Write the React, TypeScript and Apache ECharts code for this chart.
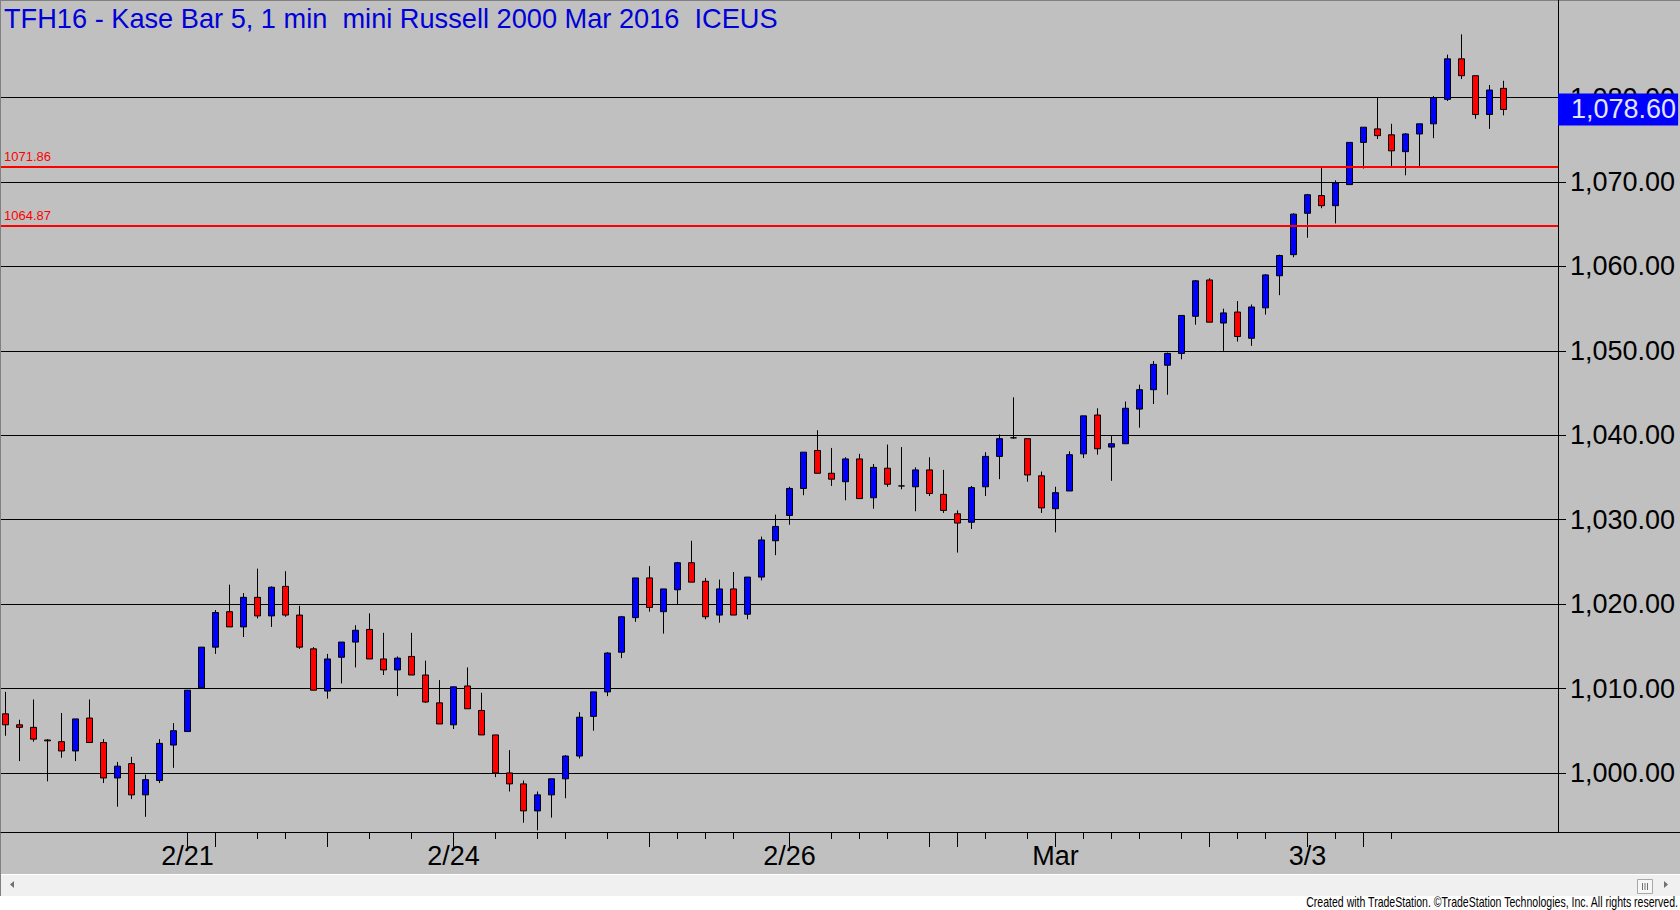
import React, { useEffect, useRef } from 'react';
import * as echarts from 'echarts';

const FONT = "'Liberation Sans', Arial, Helvetica, sans-serif";
const TITLE = 'TFH16 - Kase Bar 5, 1 min  mini Russell 2000 Mar 2016  ICEUS';
const FOOTER = 'Created with TradeStation. \u00a9TradeStation Technologies, Inc. All rights reserved.';

// OHLC per bar (Kase bars, left to right)
const opens = [
  1007.0, 1005.7, 1005.4, 1003.9, 1003.7, 1002.6, 1006.5, 1003.6, 999.4, 1001.1,
  997.4, 999.1, 1003.3, 1004.9, 1010.1, 1014.9, 1019.1, 1017.3, 1020.8, 1018.6,
  1022.1, 1018.7, 1014.7, 1009.7, 1013.7, 1015.5, 1017.0, 1013.5, 1012.2, 1013.8,
  1011.6, 1008.3, 1005.7, 1010.3, 1007.4, 1004.5, 1000.0, 998.7, 995.5, 997.4,
  999.3, 1002.0, 1006.7, 1009.6, 1014.3, 1018.4, 1023.1, 1019.1, 1021.7, 1024.9,
  1022.7, 1018.7, 1021.8, 1018.8, 1023.2, 1027.5, 1030.5, 1033.7, 1038.2, 1035.5,
  1034.5, 1037.2, 1032.6, 1036.1, 1034.0, 1033.9, 1035.9, 1033.0, 1030.7, 1029.7,
  1033.9, 1037.5, 1039.7, 1039.6, 1035.2, 1031.3, 1033.4, 1037.8, 1042.4, 1038.6,
  1039.0, 1043.1, 1045.4, 1048.3, 1049.7, 1054.1, 1058.4, 1053.3, 1054.6, 1051.5,
  1055.1, 1058.9, 1061.4, 1066.3, 1068.4, 1067.2, 1069.7, 1074.7, 1076.3, 1075.6,
  1073.6, 1075.7, 1076.9, 1079.8, 1084.6, 1082.6, 1078.0, 1081.1,
];
const closes = [
  1005.7, 1005.4, 1004.0, 1003.8, 1002.6, 1006.4, 1003.6, 999.4, 1000.8, 997.4,
  999.2, 1003.5, 1005.0, 1009.8, 1014.9, 1019.0, 1017.3, 1020.8, 1018.6, 1022.0,
  1018.7, 1014.9, 1009.8, 1013.5, 1015.5, 1016.9, 1013.5, 1012.2, 1013.6, 1011.6,
  1008.4, 1005.8, 1010.2, 1007.6, 1004.5, 1000.0, 998.7, 995.5, 997.4, 999.3,
  1002.0, 1006.6, 1009.6, 1014.2, 1018.5, 1023.1, 1019.6, 1021.8, 1024.9, 1022.6,
  1018.5, 1021.8, 1018.7, 1023.2, 1027.6, 1029.2, 1033.7, 1038.0, 1035.5, 1034.8,
  1037.2, 1032.5, 1036.2, 1034.2, 1034.0, 1035.9, 1033.1, 1031.1, 1029.6, 1033.8,
  1037.5, 1039.6, 1039.7, 1035.3, 1031.4, 1033.2, 1037.7, 1042.3, 1038.4, 1039.0,
  1043.2, 1045.4, 1048.4, 1049.7, 1054.2, 1058.3, 1053.4, 1054.5, 1051.7, 1055.2,
  1059.0, 1061.3, 1066.2, 1068.5, 1067.2, 1069.9, 1074.7, 1076.5, 1075.5, 1073.7,
  1075.7, 1076.9, 1080.0, 1084.6, 1082.6, 1078.0, 1080.9, 1078.6,
];
const lows = [
  1004.4, 1001.4, 1003.7, 999.0, 1001.8, 1001.4, 1003.6, 998.8, 996.0, 996.9,
  994.8, 998.8, 1000.6, 1004.9, 1010.1, 1014.1, 1017.3, 1016.1, 1018.3, 1017.3,
  1018.5, 1014.7, 1009.8, 1008.8, 1010.6, 1012.5, 1013.5, 1011.6, 1009.1, 1011.6,
  1008.3, 1005.8, 1005.2, 1007.6, 1004.5, 999.5, 997.8, 994.1, 993.2, 994.7,
  997.0, 1001.7, 1005.0, 1009.1, 1013.6, 1017.9, 1019.1, 1016.5, 1020.0, 1022.6,
  1018.2, 1017.8, 1018.7, 1018.2, 1022.8, 1025.8, 1029.4, 1032.9, 1035.5, 1034.0,
  1032.3, 1032.5, 1031.3, 1033.9, 1033.6, 1031.0, 1032.8, 1030.8, 1026.1, 1028.9,
  1032.8, 1034.8, 1039.6, 1034.5, 1030.8, 1028.5, 1033.4, 1037.3, 1037.7, 1034.6,
  1039.0, 1040.9, 1043.7, 1044.8, 1049.0, 1053.1, 1053.4, 1050.0, 1051.1, 1050.6,
  1054.3, 1056.6, 1061.1, 1063.4, 1066.9, 1065.1, 1069.7, 1071.6, 1075.1, 1071.9,
  1070.8, 1071.9, 1075.2, 1079.6, 1082.2, 1077.5, 1076.3, 1077.9,
];
const highs = [
  1009.6, 1006.3, 1008.7, 1004.0, 1007.1, 1006.4, 1008.7, 1004.0, 1001.3, 1001.9,
  999.8, 1004.0, 1005.9, 1009.8, 1014.9, 1019.3, 1022.3, 1021.3, 1024.2, 1022.1,
  1023.9, 1019.8, 1014.9, 1014.1, 1015.5, 1017.5, 1018.9, 1016.6, 1013.8, 1016.6,
  1013.3, 1011.0, 1010.2, 1012.5, 1009.5, 1004.5, 1002.7, 999.1, 997.8, 999.3,
  1002.1, 1007.2, 1009.6, 1014.3, 1018.6, 1023.1, 1024.5, 1021.8, 1025.0, 1027.5,
  1023.1, 1022.9, 1023.8, 1023.2, 1028.0, 1030.6, 1033.9, 1038.0, 1040.6, 1038.5,
  1037.4, 1037.8, 1036.6, 1038.9, 1038.6, 1036.2, 1037.4, 1035.9, 1031.1, 1034.0,
  1038.0, 1040.1, 1044.5, 1039.6, 1035.7, 1033.9, 1038.1, 1042.3, 1043.2, 1039.9,
  1044.0, 1046.0, 1048.8, 1049.8, 1054.2, 1058.4, 1058.6, 1055.0, 1055.9, 1055.5,
  1059.1, 1061.4, 1066.3, 1068.6, 1071.9, 1070.2, 1074.7, 1076.5, 1080.0, 1076.9,
  1075.8, 1076.9, 1080.2, 1085.1, 1087.5, 1082.6, 1081.5, 1082.0,
];

const xLabelIndex = [13, 32, 56, 75, 93];
const xLabelText = ['2/21', '2/24', '2/26', 'Mar', '3/3'];
const longTickIndex = [13, 15, 23, 32, 46, 56, 66, 68, 75, 86, 93, 97];
const shortTickIndex = [18, 20, 26, 29, 35, 38, 40, 43, 48, 50, 52, 59, 61, 63, 70, 73, 77, 79, 81, 84, 88, 90, 95, 99];
const yGridValues = [1000, 1010, 1020, 1030, 1040, 1050, 1060, 1070, 1080];
const levelValues = [1071.86, 1064.87];
const lastPrice = closes[closes.length - 1];

const X_MIN = -0.3214;
const X_MAX = 110.893;
const Y_MIN = 993;
const Y_MAX = 1091.57;

const fmtPrice = (v: number) => v.toFixed(2).replace(/\B(?=(\d{3})+(?!\d))/g, ',');

export default function App() {
  const ref = useRef<HTMLDivElement>(null);

  useEffect(() => {
    document.body.style.margin = '0';
    if (!ref.current) return;
    const chart = echarts.init(ref.current, null, { renderer: 'svg' });

    const candleData = opens.map((o, i) => [i, o, closes[i], lows[i], highs[i]]);

    const option: any = {
      animation: false,
      backgroundColor: '#c0c0c0',
      textStyle: { fontFamily: FONT },
      title: {
        text: TITLE,
        left: 4,
        top: 5,
        padding: 0,
        textStyle: { color: '#0000d8', fontSize: 27.2, fontWeight: 'normal', fontFamily: FONT },
      },
      grid: { left: 1, right: 122, top: 0, bottom: 78, containLabel: false, outerBoundsMode: 'none' },
      xAxis: [
        {
          type: 'value',
          min: X_MIN,
          max: X_MAX,
          position: 'bottom',
          axisLine: { show: true, onZero: false, lineStyle: { color: '#000', width: 1 } },
          axisTick: { show: true, customValues: longTickIndex, length: 15, lineStyle: { color: '#000', width: 1 } },
          axisLabel: {
            show: true,
            customValues: xLabelIndex,
            formatter: (v: number) => {
              const k = xLabelIndex.indexOf(Math.round(v));
              return k >= 0 ? xLabelText[k] : '';
            },
            fontSize: 27,
            color: '#000',
            fontFamily: FONT,
            margin: 10,
          },
          splitLine: { show: false },
        },
        {
          type: 'value',
          min: X_MIN,
          max: X_MAX,
          position: 'bottom',
          axisLine: { show: false, onZero: false },
          axisTick: { show: true, customValues: shortTickIndex, length: 7, lineStyle: { color: '#000', width: 1 } },
          axisLabel: { show: false },
          splitLine: { show: false },
        },
      ],
      yAxis: {
        type: 'value',
        position: 'right',
        min: Y_MIN,
        max: Y_MAX,
        axisLine: { show: true, onZero: false, lineStyle: { color: '#000', width: 1 } },
        axisTick: { show: true, customValues: yGridValues, length: 8, lineStyle: { color: '#000', width: 1 } },
        axisLabel: {
          show: true,
          customValues: yGridValues,
          formatter: (v: number) => fmtPrice(v),
          fontSize: 27,
          color: '#000',
          fontFamily: FONT,
          margin: 12,
        },
        splitLine: { show: true, lineStyle: { color: '#000', width: 1 } },
      },
      series: [
        {
          type: 'candlestick',
          xAxisIndex: 0,
          yAxisIndex: 0,
          data: candleData,
          barWidth: 7,
          itemStyle: {
            color: '#0000ff',
            color0: '#ff0000',
            borderColor: '#000000',
            borderColor0: '#000000',
            borderColorDoji: '#000000',
            borderWidth: 1,
          },
          markLine: {
            silent: true,
            symbol: ['none', 'none'],
            animation: false,
            data: [
              ...levelValues.map((v) => ({
                yAxis: v,
                lineStyle: { color: '#ff0000', width: 2, type: 'solid', opacity: 1 },
                label: {
                  show: true,
                  position: 'insideStartTop',
                  formatter: () => v.toFixed(2),
                  color: '#ff0000',
                  fontSize: 13,
                  fontFamily: FONT,
                  distance: [3, 3],
                },
              })),
              {
                yAxis: lastPrice,
                lineStyle: { color: 'rgba(0,0,0,0)', width: 1, type: 'solid', opacity: 1 },
                label: {
                  show: true,
                  position: 'end',
                  distance: 0,
                  formatter: () => fmtPrice(lastPrice),
                  backgroundColor: '#0000ff',
                  color: '#e4e4ff',
                  fontSize: 27,
                  lineHeight: 28,
                  fontFamily: FONT,
                  padding: [2, 2, 2, 13],
                  opacity: 1,
                },
              },
            ],
          },
        },
      ],
      graphic: [
        { type: 'line', shape: { x1: 0, y1: 0.5, x2: 1680, y2: 0.5 }, style: { stroke: '#808080', lineWidth: 1 } },
        { type: 'line', shape: { x1: 0.5, y1: 0, x2: 0.5, y2: 896 }, style: { stroke: '#808080', lineWidth: 1 } },
        { type: 'line', shape: { x1: 1558, y1: 832.5, x2: 1680, y2: 832.5 }, style: { stroke: '#000', lineWidth: 1 } },
        { type: 'rect', shape: { x: 1, y: 874, width: 1679, height: 22 }, style: { fill: '#f0f0f0' } },
        { type: 'line', shape: { x1: 1, y1: 874.5, x2: 1680, y2: 874.5 }, style: { stroke: '#ffffff', lineWidth: 1 } },
        { type: 'rect', shape: { x: 0, y: 896, width: 1680, height: 14 }, style: { fill: '#ffffff' } },
        { type: 'polygon', shape: { points: [[10, 884.5], [14, 881], [14, 888]] }, style: { fill: '#707070' } },
        { type: 'polygon', shape: { points: [[1668, 884.5], [1664, 881], [1664, 888]] }, style: { fill: '#707070' } },
        { type: 'rect', shape: { x: 1637.5, y: 879.5, width: 15, height: 14 }, style: { fill: '#f6f6f6', stroke: '#a8a8a8', lineWidth: 1 } },
        { type: 'line', shape: { x1: 1642.5, y1: 883, x2: 1642.5, y2: 890 }, style: { stroke: '#707070', lineWidth: 1 } },
        { type: 'line', shape: { x1: 1645, y1: 883, x2: 1645, y2: 890 }, style: { stroke: '#707070', lineWidth: 1 } },
        { type: 'line', shape: { x1: 1647.5, y1: 883, x2: 1647.5, y2: 890 }, style: { stroke: '#707070', lineWidth: 1 } },
        {
          type: 'text',
          x: 1678,
          y: 909,
          scaleX: 0.753,
          style: {
            text: FOOTER,
            x: 0,
            y: 0,
            fill: '#000',
            fontSize: 14,
            fontFamily: FONT,
            textAlign: 'right',
            textVerticalAlign: 'bottom',
          },
        },
      ],
    };

    chart.setOption(option);
    return () => {
      chart.dispose();
    };
  }, []);

  return <div ref={ref} style={{ width: 1680, height: 910 }} />;
}
